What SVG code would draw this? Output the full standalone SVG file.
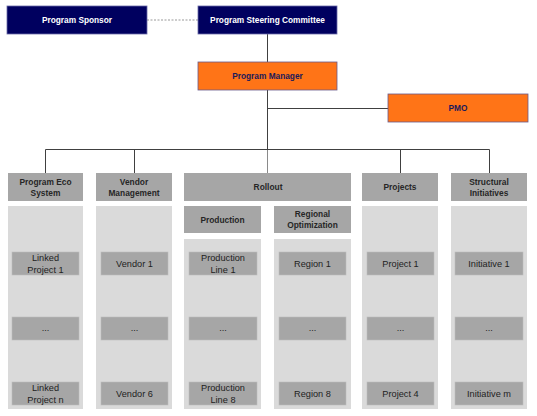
<svg xmlns="http://www.w3.org/2000/svg" width="537" height="416" viewBox="0 0 537 416">
<style>
.navy{fill:#00005f;stroke:#6a6aa8;stroke-width:0.8}
.orange{fill:#ff7417;stroke:#6a5a8a;stroke-width:0.8}
.hdr{fill:#a6a6a6}
.body{fill:#dadada}
.item{fill:#a6a6a6;stroke:#bdbdbd;stroke-width:0.6}
text{font-family:"Liberation Sans",Arial,sans-serif;text-anchor:middle}
.tw{fill:#ffffff;font-weight:bold;font-size:8.3px}
.to{fill:#1a1a5a;font-weight:bold;font-size:8.3px}
.th{fill:#262626;font-weight:bold;font-size:8.4px}
.ti{fill:#222222;font-size:9.2px}
.ln{stroke:#404040;stroke-width:1;fill:none}
</style>
<rect width="537" height="416" fill="#ffffff"/>
<g id="connectors">
<line x1="147" y1="20" x2="198" y2="20" stroke="#999999" stroke-width="1" stroke-dasharray="2,1.5"/>
<path class="ln" d="M267.5 34V62M267.5 90V149.5M267.5 108.5H388M45.5 173V149.5H489.5V173M134.5 149.5V173M400.5 149.5V173"/>
<path d="M267.5 150V173" stroke="#8a8a8a" stroke-width="1"/>
</g>
<g id="sponsor"><rect class="navy" x="7" y="6" width="140" height="28"/><text class="tw" x="77" y="23">Program Sponsor</text></g>
<g id="steering"><rect class="navy" x="198" y="6" width="139" height="28"/><text class="tw" x="267.5" y="23">Program Steering Committee</text></g>
<g id="manager"><rect class="orange" x="198" y="62" width="139" height="28"/><text class="to" x="267.5" y="79">Program Manager</text></g>
<g id="pmo"><rect class="orange" x="388" y="94" width="140" height="28"/><text class="to" x="458" y="111">PMO</text></g>

<g id="eco">
<rect class="hdr" x="8" y="173" width="75" height="28"/>
<text class="th" x="45.5" y="185">Program Eco</text><text class="th" x="45.5" y="196">System</text>
<rect class="body" x="8" y="206" width="75" height="203"/>
<rect class="item" x="12" y="252" width="67" height="23"/><text class="ti" x="45.5" y="261">Linked</text><text class="ti" x="45.5" y="272.5">Project 1</text>
<rect class="item" x="12" y="317" width="67" height="23"/><text class="ti" x="45.5" y="331">...</text>
<rect class="item" x="12" y="382" width="67" height="23"/><text class="ti" x="45.5" y="391">Linked</text><text class="ti" x="45.5" y="402.5">Project n</text>
</g>
<g id="vendor">
<rect class="hdr" x="96" y="173" width="76" height="28"/>
<text class="th" x="134" y="185">Vendor</text><text class="th" x="134" y="196">Management</text>
<rect class="body" x="96" y="206" width="76" height="203"/>
<rect class="item" x="101" y="252" width="67" height="23"/><text class="ti" x="134.5" y="266.8">Vendor 1</text>
<rect class="item" x="101" y="317" width="67" height="23"/><text class="ti" x="134.5" y="331">...</text>
<rect class="item" x="101" y="382" width="67" height="23"/><text class="ti" x="134.5" y="396.8">Vendor 6</text>
</g>
<g id="rollout">
<rect class="hdr" x="184" y="173" width="167" height="28"/>
<text class="th" x="268" y="190">Rollout</text>
</g>
<g id="production">
<rect class="hdr" x="184" y="206" width="77" height="27"/>
<text class="th" x="222.5" y="222.5">Production</text>
<rect class="body" x="184" y="239" width="77" height="170"/>
<rect class="item" x="189" y="252" width="68" height="23"/><text class="ti" x="223" y="261">Production</text><text class="ti" x="223" y="272.5">Line 1</text>
<rect class="item" x="189" y="317" width="68" height="23"/><text class="ti" x="223" y="331">...</text>
<rect class="item" x="189" y="382" width="68" height="23"/><text class="ti" x="223" y="391">Production</text><text class="ti" x="223" y="402.5">Line 8</text>
</g>
<g id="regional">
<rect class="hdr" x="274" y="206" width="77" height="27"/>
<text class="th" x="312.5" y="217">Regional</text><text class="th" x="312.5" y="228">Optimization</text>
<rect class="body" x="274" y="239" width="77" height="170"/>
<rect class="item" x="279" y="252" width="67" height="23"/><text class="ti" x="312.5" y="266.8">Region 1</text>
<rect class="item" x="279" y="317" width="67" height="23"/><text class="ti" x="312.5" y="331">...</text>
<rect class="item" x="279" y="382" width="67" height="23"/><text class="ti" x="312.5" y="396.8">Region 8</text>
</g>
<g id="projects">
<rect class="hdr" x="362" y="173" width="76" height="28"/>
<text class="th" x="400" y="190">Projects</text>
<rect class="body" x="362" y="206" width="76" height="203"/>
<rect class="item" x="367" y="252" width="67" height="23"/><text class="ti" x="400.5" y="266.8">Project 1</text>
<rect class="item" x="367" y="317" width="67" height="23"/><text class="ti" x="400.5" y="331">...</text>
<rect class="item" x="367" y="382" width="67" height="23"/><text class="ti" x="400.5" y="396.8">Project 4</text>
</g>
<g id="structural">
<rect class="hdr" x="451" y="173" width="76" height="28"/>
<text class="th" x="489" y="185">Structural</text><text class="th" x="489" y="196">Initiatives</text>
<rect class="body" x="451" y="206" width="76" height="203"/>
<rect class="item" x="455" y="252" width="68" height="23"/><text class="ti" x="489" y="266.8">Initiative 1</text>
<rect class="item" x="455" y="317" width="68" height="23"/><text class="ti" x="489" y="331">...</text>
<rect class="item" x="455" y="382" width="68" height="23"/><text class="ti" x="489" y="396.8">Initiative m</text>
</g>
</svg>
